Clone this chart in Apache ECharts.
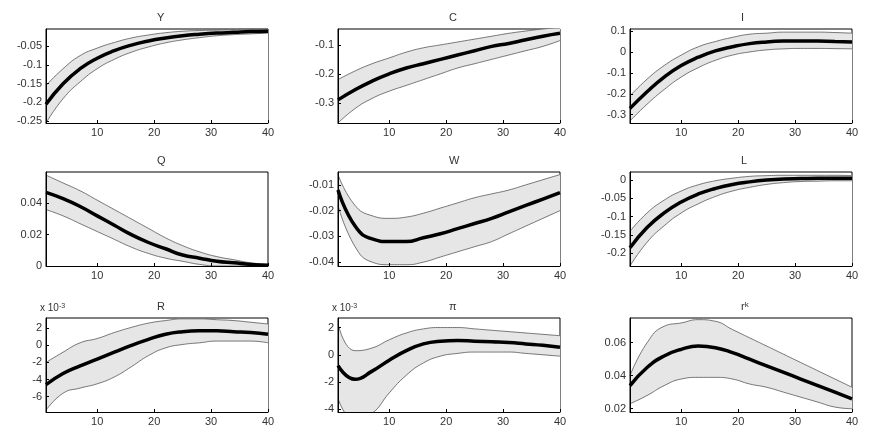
<!DOCTYPE html>
<html>
<head>
<meta charset="UTF-8">
<script src="https://cdn.jsdelivr.net/npm/echarts@6/dist/echarts.min.js"></script>
<style>
  body { margin: 0; background: #fff; }
  #chart { width: 876px; height: 432px; }
</style>
</head>
<body>
<div id="chart"></div>
<script>
const periods = [1, 4, 7, 10, 13, 16, 19, 22, 25, 28, 31, 34, 37, 40];

const yMean = [-0.205,-0.15,-0.11,-0.082,-0.062,-0.047,-0.036,-0.028,-0.022,-0.018,-0.015,-0.013,-0.011,-0.01];
const yUp   = [-0.155,-0.11,-0.075,-0.055,-0.04,-0.028,-0.02,-0.014,-0.01,-0.008,-0.007,-0.006,-0.005,-0.005];
const yLo   = [-0.255,-0.19,-0.145,-0.11,-0.085,-0.066,-0.052,-0.041,-0.033,-0.027,-0.022,-0.019,-0.017,-0.015];

const cMean = [-0.29,-0.255,-0.225,-0.2,-0.18,-0.165,-0.15,-0.135,-0.12,-0.105,-0.095,-0.082,-0.07,-0.06];
const cUp   = [-0.22,-0.19,-0.165,-0.145,-0.125,-0.11,-0.1,-0.09,-0.08,-0.07,-0.06,-0.052,-0.045,-0.04];
const cLo   = [-0.37,-0.32,-0.285,-0.26,-0.24,-0.22,-0.2,-0.18,-0.165,-0.15,-0.135,-0.12,-0.105,-0.085];

const iMean = [-0.27,-0.19,-0.12,-0.065,-0.025,0.005,0.025,0.04,0.048,0.052,0.053,0.052,0.05,0.048];
const iUp   = [-0.21,-0.13,-0.065,-0.015,0.025,0.05,0.07,0.085,0.09,0.095,0.095,0.095,0.093,0.09];
const iLo   = [-0.33,-0.25,-0.18,-0.12,-0.075,-0.04,-0.015,0,0.01,0.015,0.017,0.017,0.016,0.015];

const qMean = [0.047,0.043,0.038,0.032,0.026,0.02,0.015,0.011,0.007,0.005,0.003,0.002,0.001,0.0005];
const qUp   = [0.058,0.053,0.048,0.042,0.036,0.03,0.024,0.018,0.013,0.009,0.006,0.004,0.002,0.001];
const qLo   = [0.036,0.032,0.027,0.022,0.017,0.012,0.008,0.005,0.003,0.001,0,0,0,0];

const wMean = [-0.012,-0.026,-0.031,-0.032,-0.032,-0.0305,-0.029,-0.027,-0.025,-0.023,-0.0205,-0.018,-0.0155,-0.013];
const wUp   = [-0.006,-0.018,-0.022,-0.023,-0.0225,-0.021,-0.019,-0.017,-0.015,-0.0135,-0.012,-0.01,-0.008,-0.006];
const wLo   = [-0.018,-0.034,-0.04,-0.041,-0.041,-0.04,-0.038,-0.036,-0.034,-0.032,-0.029,-0.026,-0.023,-0.02];

const lMean = [-0.185,-0.13,-0.09,-0.06,-0.038,-0.023,-0.012,-0.005,0,0.003,0.004,0.005,0.005,0.005];
const lUp   = [-0.14,-0.09,-0.055,-0.03,-0.013,-0.002,0.005,0.01,0.012,0.013,0.013,0.013,0.013,0.012];
const lLo   = [-0.235,-0.17,-0.125,-0.09,-0.065,-0.045,-0.03,-0.02,-0.012,-0.007,-0.004,-0.003,-0.002,-0.002];

// R and pi in units of 10^-3
const rMean = [-4.6,-3.3,-2.4,-1.6,-0.8,0,0.7,1.3,1.6,1.7,1.7,1.6,1.5,1.3];
const rUp   = [-2,-0.8,0.3,0.8,1.5,2.1,2.6,2.9,3.1,3.1,3,2.9,2.7,2.5];
const rLo   = [-7.6,-5.6,-5,-4.5,-3.7,-2.5,-1.2,-0.3,0.1,0.3,0.5,0.5,0.5,0.3];

const piMean = [-0.8,-1.8,-1.2,-0.4,0.3,0.8,1.0,1.05,1.0,0.95,0.9,0.8,0.7,0.55];
const piUp   = [2.3,0.3,0.5,1.1,1.6,1.9,2.0,2.0,1.9,1.8,1.7,1.6,1.5,1.4];
const piLo   = [-3.2,-4.8,-4.3,-2.8,-1.5,-0.6,-0.1,0.1,0.2,0.2,0.2,0.1,0,-0.1];

const rkMean = [0.034,0.045,0.052,0.056,0.058,0.057,0.054,0.05,0.046,0.042,0.038,0.034,0.03,0.026];
const rkUp   = [0.04,0.06,0.07,0.072,0.074,0.073,0.068,0.063,0.058,0.053,0.048,0.043,0.038,0.033];
const rkLo   = [0.023,0.028,0.034,0.038,0.039,0.039,0.038,0.035,0.033,0.03,0.027,0.024,0.021,0.02];

const xTicks = [10, 20, 30, 40];

const panels = [
  { title: 'Y', mean: yMean, up: yUp, lo: yLo, min: -0.255, max: -0.004, ticks: [-0.25,-0.2,-0.15,-0.1,-0.05] },
  { title: 'C', mean: cMean, up: cUp, lo: cLo, min: -0.37, max: -0.045, ticks: [-0.3,-0.2,-0.1] },
  { title: 'I', mean: iMean, up: iUp, lo: iLo, min: -0.34, max: 0.11, ticks: [-0.3,-0.2,-0.1,0,0.1] },
  { title: 'Q', mean: qMean, up: qUp, lo: qLo, min: 0, max: 0.06, ticks: [0,0.02,0.04] },
  { title: 'W', mean: wMean, up: wUp, lo: wLo, min: -0.0415, max: -0.005, ticks: [-0.04,-0.03,-0.02,-0.01] },
  { title: 'L', mean: lMean, up: lUp, lo: lLo, min: -0.235, max: 0.022, ticks: [-0.2,-0.15,-0.1,-0.05,0] },
  { title: 'R', mean: rMean, up: rUp, lo: rLo, min: -7.8, max: 3.2, ticks: [-6,-4,-2,0,2], exp: true },
  { title: 'π', mean: piMean, up: piUp, lo: piLo, min: -4.2, max: 2.7, ticks: [-4,-2,0,2], exp: true },
  { title: '{b|r}{s|k}', mean: rkMean, up: rkUp, lo: rkLo, min: 0.018, max: 0.075, ticks: [0.02,0.04,0.06] }
];

const colLeft = [46, 338, 630];
const rowTop = [29, 172, 318];
const gw = 222, gh = 94;

const grid = [], xAxis = [], yAxis = [], series = [], graphic = [];
const pair = (arr) => arr.map((v, k) => [periods[k], v]);
const fmt = (v) => String(+v.toFixed(4));

panels.forEach((p, i) => {
  const r = Math.floor(i / 3), c = i % 3;
  const left = colLeft[c], top = rowTop[r];
  grid.push({ left: left, top: top, width: gw, height: gh, show: true, borderColor: '#000', borderWidth: 1, backgroundColor: '#fff' });
  xAxis.push({
    type: 'value', gridIndex: i, min: 1, max: 40, z: 10,
    axisLine: { show: true, onZero: false, lineStyle: { color: '#000' } },
    axisTick: { inside: true, length: 3, customValues: xTicks, lineStyle: { color: '#000' } },
    axisLabel: { customValues: xTicks, color: '#333', fontSize: 11, fontFamily: 'Liberation Sans', margin: 4 },
    splitLine: { show: false }
  });
  yAxis.push({
    type: 'value', gridIndex: i, min: p.min, max: p.max, z: 10,
    axisLine: { show: true, onZero: false, lineStyle: { color: '#000' } },
    axisTick: { inside: true, length: 3, customValues: p.ticks, lineStyle: { color: '#000' } },
    axisLabel: { customValues: p.ticks, color: '#333', fontSize: 11, fontFamily: 'Liberation Sans', margin: 4, formatter: fmt },
    splitLine: { show: false }
  });
  const base = { type: 'line', xAxisIndex: i, yAxisIndex: i, showSymbol: false, silent: true, clip: true, smooth: true };
  series.push(Object.assign({}, base, {
    data: pair(p.up), lineStyle: { color: '#555', width: 0.8 },
    areaStyle: { color: '#e6e6e6', opacity: 1, origin: 'start' }, z: 1
  }));
  series.push(Object.assign({}, base, {
    data: pair(p.lo), lineStyle: { color: '#555', width: 0.8 },
    areaStyle: { color: '#fff', opacity: 1, origin: 'start' }, z: 2
  }));
  series.push(Object.assign({}, base, {
    data: pair(p.mean), lineStyle: { color: '#000', width: 3.5 }, z: 3
  }));
  graphic.push({
    type: 'text', left: left + gw / 2, top: top - 17,
    style: {
      text: p.title, fill: '#333', font: '11px Liberation Sans', textAlign: 'center',
      rich: { b: { fontSize: 11, fill: '#333' }, s: { fontSize: 8, verticalAlign: 'top', fill: '#333' } }
    }
  });
  if (p.exp) {
    graphic.push({
      type: 'text', left: left - 6, top: top - 15,
      style: { text: 'x 10{e|-3}', fill: '#333', font: '10px Liberation Sans', rich: { e: { fontSize: 7, verticalAlign: 'top' } } }
    });
  }
});

const chart = echarts.init(document.getElementById('chart'));
chart.setOption({ animation: false, backgroundColor: '#fff', grid, xAxis, yAxis, series, graphic });
</script>
</body>
</html>
